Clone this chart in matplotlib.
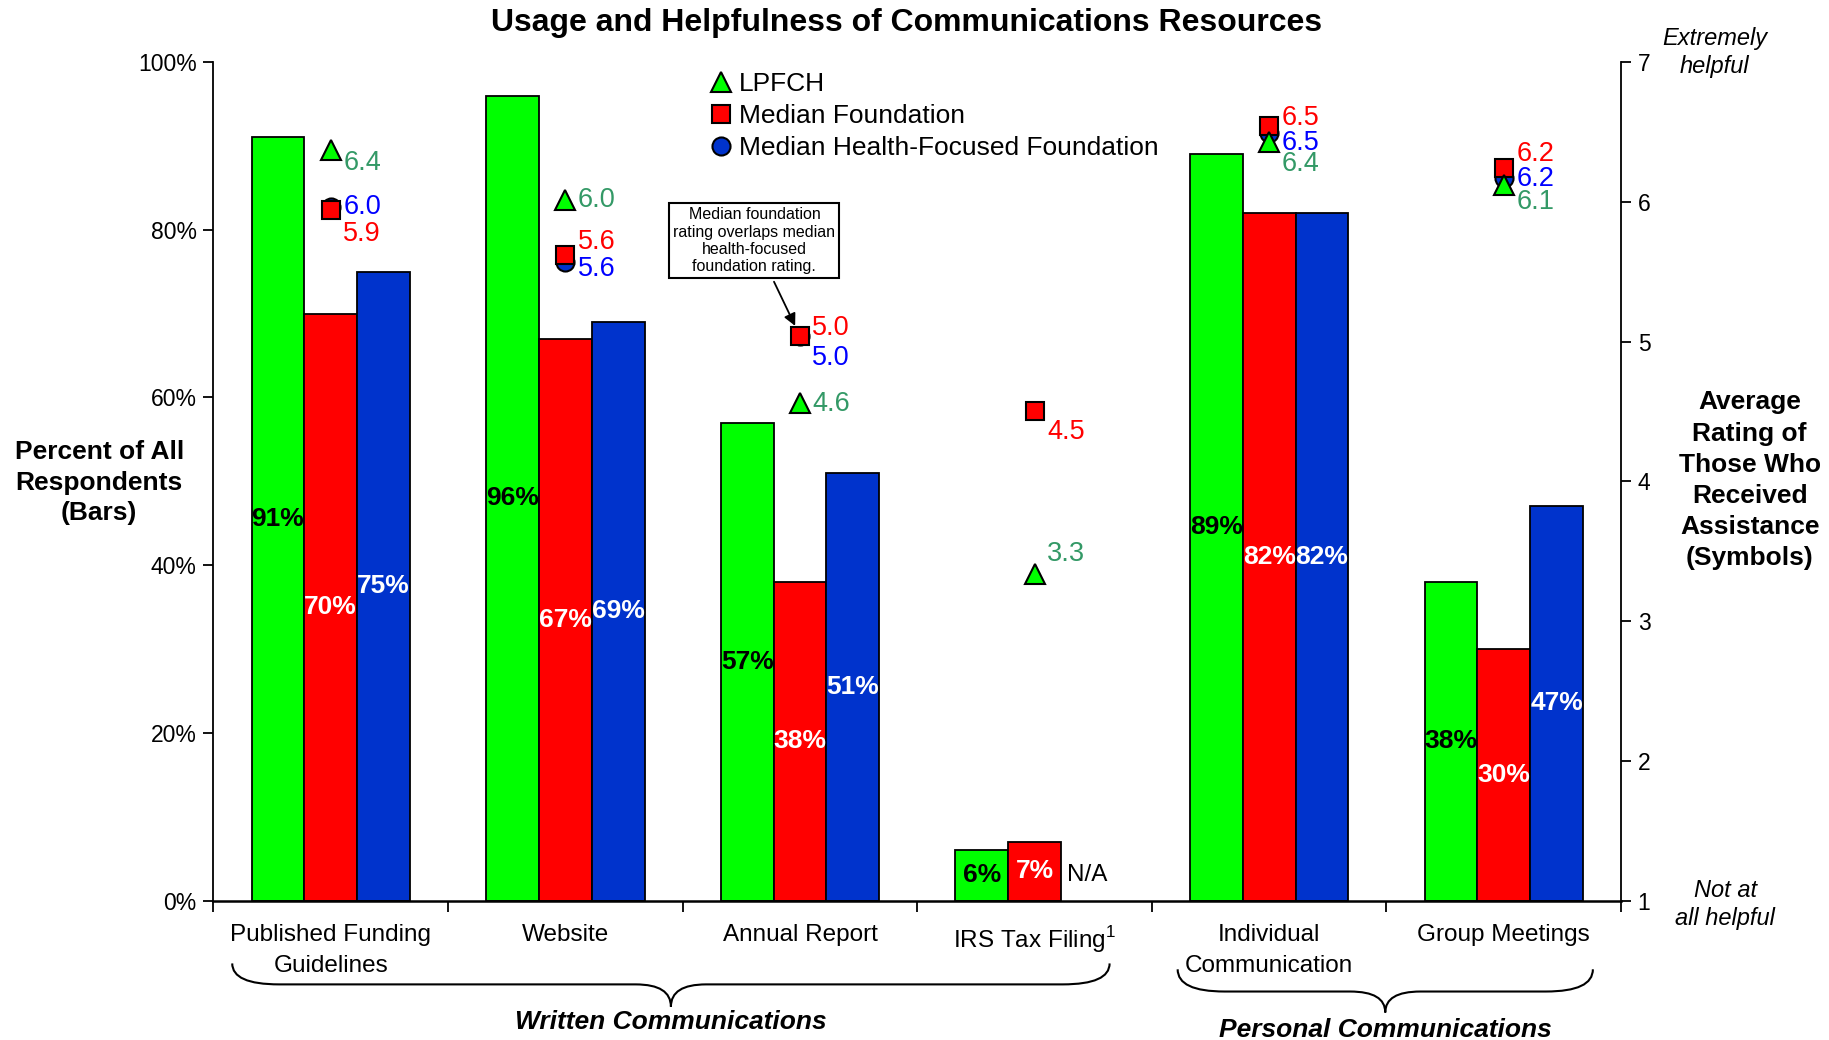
import numpy as np
import matplotlib
matplotlib.use("Agg")
import matplotlib.pyplot as plt
from matplotlib.path import Path
from matplotlib.patches import PathPatch
from matplotlib.lines import Line2D
from matplotlib.transforms import blended_transform_factory

plt.rcParams['font.family'] = ['Liberation Sans', 'DejaVu Sans']
plt.rcParams['mathtext.fontset'] = 'custom'
plt.rcParams['mathtext.rm'] = 'Liberation Sans'

# Data
categories = ["Published Funding\nGuidelines", "Website", "Annual Report",
              "IRS Tax Filing$^1$", "Individual\nCommunication", "Group Meetings"]

# percent of all respondents (bars)
pct_lpfch = [91, 96, 57, 6, 89, 38]
pct_median = [70, 67, 38, 7, 82, 30]
pct_health = [75, 69, 51, None, 82, 47]

# average rating 1-7 (symbols)
rating_lpfch = [6.37, 6.01, 4.56, 3.34, 6.43, 6.12]
rating_median = [5.94, 5.62, 5.04, 4.50, 6.54, 6.24]
rating_health = [5.96, 5.57, 5.04, None, 6.49, 6.17]

# vertical nudges of the rating labels (points)
off_lpfch = [-9, 0, -1, 14, -16, -12]
off_median = [-17, 9, 6, -15, 6, 10]
off_health = [0, -5, -16, None, -7, -1]

GREEN = '#00FF00'
RED = '#FF0000'
BLUE = '#0033CC'

fig = plt.figure(figsize=(18.29, 10.40), dpi=100)
ax = fig.add_axes([0.1167, 0.1341, 0.7696, 0.8063])

x = np.arange(len(categories))
w = 0.225

# Bars
ax.bar(x - w, pct_lpfch, w, color=GREEN, edgecolor='black', linewidth=1.3)
ax.bar(x, pct_median, w, color=RED, edgecolor='black', linewidth=1.3)
hx = [i for i, v in enumerate(pct_health) if v is not None]
ax.bar(x[hx] + w, [pct_health[i] for i in hx], w, color=BLUE, edgecolor='black', linewidth=1.3)

# bar labels
for i in range(len(categories)):
    ax.text(x[i] - w, pct_lpfch[i] / 2, f"{pct_lpfch[i]}%", ha='center', va='center',
            fontsize=19, fontweight='bold', color='black')
    ax.text(x[i], pct_median[i] / 2, f"{pct_median[i]}%", ha='center', va='center',
            fontsize=19, fontweight='bold', color='white')
    if pct_health[i] is not None:
        ax.text(x[i] + w, pct_health[i] / 2, f"{pct_health[i]}%", ha='center', va='center',
                fontsize=19, fontweight='bold', color='white')
    else:
        ax.text(x[i] + w, 3, "N/A", ha='center', va='center', fontsize=17.5)

ax.set_xlim(-0.5, len(categories) - 0.5)
ax.set_ylim(0, 100)
ax.set_yticks(range(0, 101, 20))
ax.set_yticklabels([f"{v}%" for v in range(0, 101, 20)])
ax.tick_params(axis='y', length=7, width=1.3, labelsize=16.5, pad=5)
ax.set_xticks(x)
ax.set_xticklabels(categories, fontsize=17.5, linespacing=1.5)
ax.tick_params(axis='x', which='major', length=0, pad=17)
ax.set_xticks(np.arange(-0.5, len(categories), 1), minor=True)
ax.tick_params(axis='x', which='minor', length=8, width=1.3)
for s in ['top', 'right']:
    ax.spines[s].set_visible(False)
ax.spines['left'].set_linewidth(1.3)
ax.spines['bottom'].set_linewidth(1.8)

# Ratings on the secondary axis
ax2 = ax.twinx()
ax2.set_ylim(1, 7)
ax2.set_yticks(range(1, 8))
ax2.tick_params(axis='y', length=7, width=1.3, labelsize=16.5, pad=5)
for s in ['top', 'left', 'bottom']:
    ax2.spines[s].set_visible(False)
ax2.spines['right'].set_linewidth(1.3)

hx2 = [i for i, v in enumerate(rating_health) if v is not None]
ax2.plot(x[hx2], [rating_health[i] for i in hx2], linestyle='none', marker='o', ms=13,
         mfc=BLUE, mec='black', mew=1.5, zorder=3)
ax2.plot(x, rating_median, linestyle='none', marker='s', ms=12.5,
         mfc=RED, mec='black', mew=1.5, zorder=4)
ax2.plot(x, rating_lpfch, linestyle='none', marker='^', ms=15,
         mfc=GREEN, mec='black', mew=1.5, zorder=5)

for vals, offs, col in [(rating_lpfch, off_lpfch, '#339966'),
                        (rating_median, off_median, RED),
                        (rating_health, off_health, '#0000FF')]:
    for i, v in enumerate(vals):
        if v is None:
            continue
        ax2.annotate(f"{v:.1f}", xy=(x[i], v), xytext=(9, offs[i]), textcoords='offset points',
                     ha='left', va='center', fontsize=19.5, color=col)

# callout
ax2.annotate("Median foundation\nrating overlaps median\nhealth-focused\nfoundation rating.",
             xy=(x[2], rating_median[2]), xytext=(1.806, 5.72), ha='center', va='center',
             fontsize=11.5, zorder=6,
             bbox=dict(boxstyle='square,pad=0.25', fc='white', ec='black', lw=1.5),
             arrowprops=dict(arrowstyle='-|>', color='black', lw=1.3, shrinkB=8,
                             mutation_scale=18))

# legend
handles = [Line2D([], [], linestyle='none', marker='^', ms=15, mfc=GREEN, mec='black', mew=1.5),
           Line2D([], [], linestyle='none', marker='s', ms=12.5, mfc=RED, mec='black', mew=1.5),
           Line2D([], [], linestyle='none', marker='o', ms=13, mfc=BLUE, mec='black', mew=1.5)]
ax2.legend(handles, ["LPFCH", "Median Foundation", "Median Health-Focused Foundation"],
           loc='upper left', bbox_to_anchor=(0.353, 0.988), frameon=False, fontsize=19,
           handlelength=0.8, handletextpad=0.3, labelspacing=0.3, borderpad=0, borderaxespad=0)


# curly braces under the category groups
def brace(axis, x0, x1, y_top, y_mid, y_tip, r_end=0.2, r_tip=0.15):
    xm = (x0 + x1) / 2
    verts = [(x0, y_top), (x0, y_mid), (x0 + r_end, y_mid),
             (xm - r_tip, y_mid),
             (xm, y_mid), (xm, y_tip),
             (xm, y_mid), (xm + r_tip, y_mid),
             (x1 - r_end, y_mid),
             (x1, y_mid), (x1, y_top)]
    codes = [Path.MOVETO, Path.CURVE3, Path.CURVE3, Path.LINETO,
             Path.CURVE3, Path.CURVE3, Path.CURVE3, Path.CURVE3,
             Path.LINETO, Path.CURVE3, Path.CURVE3]
    trans = blended_transform_factory(axis.transData, axis.transAxes)
    axis.add_patch(PathPatch(Path(verts, codes), fc='none', ec='black', lw=1.5,
                             transform=trans, clip_on=False))
    return trans


t = brace(ax, x[0] - 0.42, x[3] + 0.32, -0.075, -0.100, -0.1266)
ax.text((x[0] - 0.42 + x[3] + 0.32) / 2, -0.1446, "Written Communications", transform=t,
        ha='center', va='center', fontsize=19, fontweight='bold', style='italic')
t = brace(ax, x[4] - 0.39, x[5] + 0.38, -0.082, -0.1085, -0.1335)
ax.text((x[4] - 0.39 + x[5] + 0.38) / 2, -0.1544, "Personal Communications", transform=t,
        ha='center', va='center', fontsize=19, fontweight='bold', style='italic')

# titles and axis captions
fig.text(0.4959, 0.9776, "Usage and Helpfulness of Communications Resources",
         ha='center', va='center', fontsize=23, fontweight='bold')
fig.text(0.0542, 0.5359, "Percent of All\nRespondents\n(Bars)", ha='center', va='center',
         fontsize=19, fontweight='bold', linespacing=1.35)
fig.text(0.9566, 0.5381, "Average\nRating of\nThose Who\nReceived\nAssistance\n(Symbols)",
         ha='center', va='center', fontsize=19, fontweight='bold', linespacing=1.38)
fig.text(0.9375, 0.9496, "Extremely\nhelpful", ha='center', va='center', fontsize=17,
         style='italic', linespacing=1.3)
fig.text(0.9432, 0.130, "Not at\nall helpful", ha='center', va='center', fontsize=17,
         style='italic', linespacing=1.3)

fig.savefig("out.png", dpi=100)
